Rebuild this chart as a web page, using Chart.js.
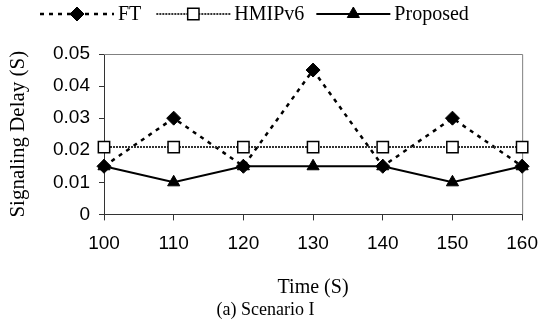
<!DOCTYPE html>
<html>
<head>
<meta charset="utf-8">
<script src="https://cdn.jsdelivr.net/npm/chart.js@4.4.0/dist/chart.umd.min.js"></script>
<style>
  html, body { margin: 0; padding: 0; background: #fff; }
  #wrap { width: 550px; height: 335px; position: relative; }
</style>
</head>
<body>
<div id="wrap"><canvas id="delayChart"></canvas></div>
<script>
const timeLabels = ['100', '110', '120', '130', '140', '150', '160'];
const ftDelay = [0.015, 0.03, 0.015, 0.045, 0.015, 0.03, 0.015];
const hmipDelay = [0.021, 0.021, 0.021, 0.021, 0.021, 0.021, 0.021];
const proposedDelay = [0.015, 0.01, 0.015, 0.015, 0.015, 0.01, 0.015];
const delayTicks = [0, 0.01, 0.02, 0.03, 0.04, 0.05];

const serif = '"Liberation Serif", "Times New Roman", serif';
const sans = '"Liberation Sans", Arial, sans-serif';

// gray box on top and right of the plot area
const plotBox = {
  id: 'plotBox',
  beforeDatasetsDraw(chart) {
    const { ctx, chartArea } = chart;
    ctx.save();
    ctx.strokeStyle = '#808080';
    ctx.lineWidth = 1;
    ctx.beginPath();
    ctx.moveTo(chartArea.left, chartArea.top + 0.5);
    ctx.lineTo(chartArea.right + 0.5, chartArea.top + 0.5);
    ctx.lineTo(chartArea.right + 0.5, chartArea.bottom);
    ctx.stroke();
    ctx.restore();
  }
};

// legend with line sample + marker, like the original figure
const lineLegend = {
  id: 'lineLegend',
  afterDraw(chart) {
    const ctx = chart.ctx;
    const y = 14;
    const gaps = [15, 12, 0];
    let x = 40;
    ctx.save();
    ctx.font = '20px ' + serif;
    ctx.textBaseline = 'middle';
    chart.data.datasets.forEach((ds, i) => {
      ctx.save();
      ctx.strokeStyle = ds.borderColor;
      ctx.lineWidth = ds.borderWidth;
      ctx.setLineDash(ds.borderDash || []);
      ctx.beginPath();
      ctx.moveTo(x, y);
      ctx.lineTo(x + 74, y);
      ctx.stroke();
      ctx.restore();

      ctx.save();
      ctx.fillStyle = ds.pointBackgroundColor;
      ctx.strokeStyle = ds.pointBorderColor;
      ctx.lineWidth = ds.pointBorderWidth;
      Chart.helpers.drawPoint(ctx, {
        pointStyle: ds.pointStyle,
        radius: ds.pointRadius,
        borderWidth: ds.pointBorderWidth,
        rotation: 0
      }, x + 37, y);
      ctx.restore();

      x += 78;
      ctx.fillStyle = '#000';
      ctx.fillText(ds.label, x, y + 1);
      x += ctx.measureText(ds.label).width + gaps[i];
    });
    ctx.restore();
  }
};

new Chart(document.getElementById('delayChart'), {
  type: 'line',
  data: {
    labels: timeLabels,
    datasets: [
      {
        label: 'FT',
        data: ftDelay,
        borderColor: '#000',
        borderWidth: 2.5,
        borderDash: [4, 5],
        pointStyle: 'rectRot',
        pointRadius: 7,
        pointBackgroundColor: '#000',
        pointBorderColor: '#000',
        pointBorderWidth: 1,
        order: 2
      },
      {
        label: 'HMIPv6',
        data: hmipDelay,
        borderColor: '#333',
        borderWidth: 2,
        borderDash: [2, 1],
        pointStyle: 'rect',
        pointRadius: 8,
        pointBackgroundColor: '#fff',
        pointBorderColor: '#000',
        pointBorderWidth: 1.5,
        order: 1
      },
      {
        label: 'Proposed',
        data: proposedDelay,
        borderColor: '#000',
        borderWidth: 2,
        pointStyle: 'triangle',
        pointRadius: 7,
        pointBackgroundColor: '#000',
        pointBorderColor: '#000',
        pointBorderWidth: 1,
        order: 0
      }
    ]
  },
  options: {
    responsive: true,
    maintainAspectRatio: false,
    animation: false,
    clip: false,
    elements: { line: { tension: 0 } },
    layout: { padding: { top: 54, right: 19, left: 0, bottom: 0 } },
    plugins: {
      legend: { display: false },
      tooltip: { enabled: false },
      title: {
        display: true,
        position: 'bottom',
        text: '(a) Scenario I',
        color: '#000',
        font: { family: serif, size: 18, weight: 'normal' },
        padding: { top: 0, bottom: 14 }
      }
    },
    scales: {
      x: {
        grid: { drawOnChartArea: false, tickLength: 6, color: '#333' },
        border: { color: '#333' },
        ticks: { color: '#000', font: { family: sans, size: 19 }, padding: 12, maxRotation: 0 },
        title: {
          display: true,
          text: 'Time (S)',
          color: '#000',
          font: { family: serif, size: 20 },
          padding: { top: 0, bottom: 0 }
        },
        afterFit(scale) { scale.height = 85; }
      },
      y: {
        min: delayTicks[0],
        max: delayTicks[delayTicks.length - 1],
        afterBuildTicks(scale) { scale.ticks = delayTicks.map(v => ({ value: v })); },
        grid: { drawOnChartArea: false, tickLength: 5, color: '#333' },
        border: { color: '#333' },
        ticks: {
          color: '#000',
          font: { family: sans, size: 19 },
          padding: 9,
          callback: v => String(Math.round(v * 100) / 100)
        },
        title: {
          display: true,
          text: 'Signaling Delay (S)',
          color: '#000',
          font: { family: serif, size: 21 },
          padding: { top: 6, bottom: 4 }
        },
        afterFit(scale) { scale.width = 104; }
      }
    }
  },
  plugins: [plotBox, lineLegend]
});
</script>
</body>
</html>
